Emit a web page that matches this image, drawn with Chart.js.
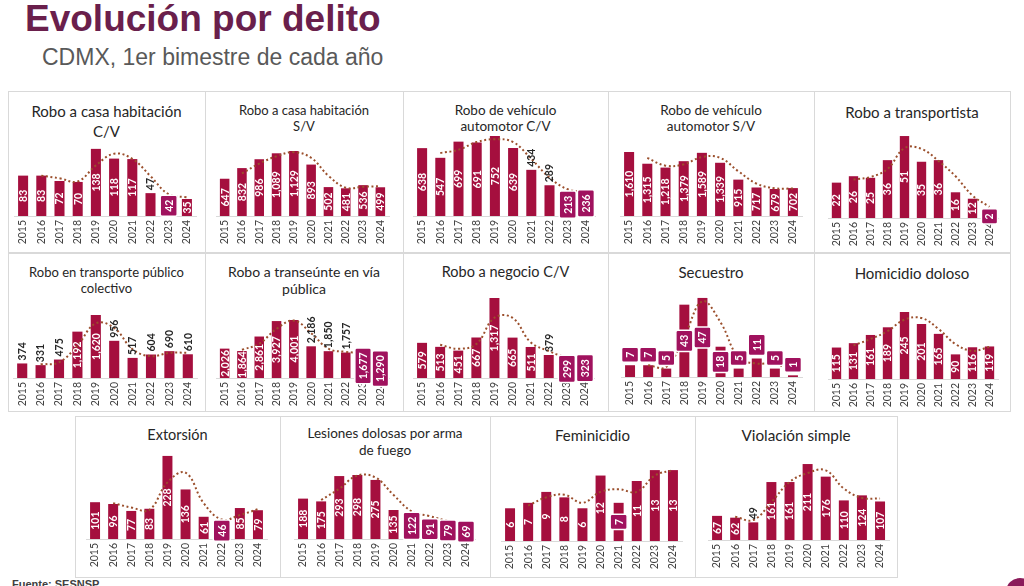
<!DOCTYPE html>
<html><head><meta charset="utf-8">
<script src="https://cdn.jsdelivr.net/npm/chart.js@4.4.1/dist/chart.umd.min.js"></script>
<style>
html,body{margin:0;padding:0;background:#fff;width:1024px;height:586px;overflow:hidden;position:relative;font-family:Lato,sans-serif}
.panel{position:absolute;border:1px solid #d9d9d9;box-sizing:border-box}
canvas{position:absolute}
.ptitle{position:absolute;text-align:center;color:#262626;white-space:nowrap}
#mainTitle{position:absolute;left:25px;top:-2px;font:bold 37px "Liberation Sans",Arial,sans-serif;color:#6A1F4C;line-height:42px}
#subTitle{position:absolute;left:42px;top:43px;font:23px "Liberation Sans",Arial,sans-serif;color:#595959;line-height:28px}
#source{position:absolute;left:12px;top:578px;font:bold 11px "Liberation Sans",Arial,sans-serif;color:#404040}
#dot{position:absolute;left:1006px;top:578px;width:28px;height:28px;border-radius:50%;background:#8B1A5A}
</style></head><body>
<div id="mainTitle">Evolución por delito</div>
<div id="subTitle">CDMX, 1er bimestre de cada año</div>
<div id="source">Fuente: SESNSP</div>
<div id="dot"></div>
<script>
// ---------- DATA ----------
const years = ['2015','2016','2017','2018','2019','2020','2021','2022','2023','2024'];
const roboCasaCV        = [83, 83, 72, 70, 138, 118, 117, 47, 42, 35];
const roboCasaSV        = [647, 832, 986, 1089, 1129, 893, 502, 481, 536, 499];
const roboVehiculoCV    = [638, 547, 699, 691, 752, 639, 434, 289, 213, 236];
const roboVehiculoSV    = [1610, 1315, 1218, 1379, 1589, 1339, 915, 717, 679, 702];
const roboTransportista = [22, 26, 25, 36, 51, 35, 36, 16, 12, 2];
const roboTransportePub = [374, 331, 475, 1192, 1620, 956, 517, 604, 690, 610];
const roboTranseunte    = [2026, 1864, 2861, 3927, 4001, 2186, 1850, 1757, 1677, 1290];
const roboNegocioCV     = [579, 513, 451, 667, 1317, 665, 511, 379, 299, 323];
const secuestro         = [7, 7, 5, 43, 47, 18, 5, 11, 5, 1];
const homicidioDoloso   = [115, 131, 161, 189, 245, 201, 165, 90, 116, 119];
const extorsion         = [101, 96, 77, 83, 228, 136, 61, 46, 85, 79];
const lesionesArmaFuego = [188, 175, 293, 298, 275, 135, 122, 91, 79, 69];
const feminicidio       = [6, 7, 9, 8, 6, 12, 7, 11, 13, 13];
const violacionSimple   = [67, 62, 49, 161, 161, 211, 176, 110, 124, 107];

const titles = [
  ['Robo a casa habitación','C/V'], ['Robo a casa habitación','S/V'],
  ['Robo de vehículo','automotor C/V'], ['Robo de vehículo','automotor S/V'],
  ['Robo a transportista'],
  ['Robo en transporte público','colectivo'], ['Robo a transeúnte en vía','pública'],
  ['Robo a negocio C/V'], ['Secuestro'], ['Homicidio doloso'],
  ['Extorsión'], ['Lesiones dolosas por arma','de fuego'], ['Feminicidio'], ['Violación simple']
];

// ---------- STYLE / LAYOUT ----------
const BAR = '#A50F3E', BOX = '#A0125E', TREND = '#9B4F2C';
// label placement: w = white centered, k = black above bar, b = boxed centered, B = boxed above bar
const labelModes = [
  'wwwwwwwkbw','wwwwwwwwww','wwwwwwkkbb','wwwwwwwwww','wwwwwwwwwb',
  'kkkwwkkkkk','wwwwwkkkbb','wwwwwwwkbb','BBBbbbBBBB','wwwwwwwwww',
  'wwwwwwwbww','wwwwwwbbbb','wwwwwwbwww','wwkwwwwwww'
];
const axisMax = [185, 1563, 846, 2264, 56, 2314, 6208, 1482, 53.5, 329, 247, 419, 16.5, 250];
// [left, top, right, bottom, plotLeft, plotRight, baseline]
const rects = [
  [8,91,205,252, 14,196,216], [205,91,403,252, 216,389,216], [403,91,608,252, 413,595,216],
  [608,91,814,252, 620,802,216], [814,91,1010,252, 828,998,218],
  [8,253,205,411, 13,197,378], [205,253,403,411, 216,389,378], [403,253,608,411, 413,594,378],
  [608,253,814,411, 621,802,377], [814,253,1010,411, 828,998,379],
  [75,416,280,577, 86,267,539], [280,416,490,577, 294,475,539], [490,416,695,577, 501,682,541],
  [695,416,897,577, 708,890,540]
];
// [first line centre y, line height, font size]
const titleStyle = [
  [111,20,15],[110,16,13],[110,16,13.5],[110,16,13.5],[112,18,15],
  [272,16,13],[271,17,14],[272,18,14.5],[272,18,15],[273,18,15],
  [435,18,14.5],[433,17,13.5],[435,18,15],[435,18,15.3]
];
const series = [roboCasaCV, roboCasaSV, roboVehiculoCV, roboVehiculoSV, roboTransportista,
  roboTransportePub, roboTranseunte, roboNegocioCV, secuestro, homicidioDoloso,
  extorsion, lesionesArmaFuego, feminicidio, violacionSimple];

// Excel-style 2-period moving-average trendline
function movingAverage2(v){ return v.map((x,i)=> i===0 ? null : (v[i-1]+x)/2); }

function valueLabels(values, modes){
  return {
    id:'valueLabels',
    afterDatasetsDraw(chart){
      const ctx = chart.ctx;
      const meta = chart.getDatasetMeta(1);
      const step = chart.scales.x.width / years.length;
      const zero = chart.scales.y.getPixelForValue(0);
      meta.data.forEach((bar,i)=>{
        const txt = values[i].toLocaleString('en-US');
        const mode = modes[i];
        const top = chart.scales.y.getPixelForValue(values[i]);
        const x = chart.scales.x.getPixelForValue(i);
        ctx.save();
        ctx.font = 'bold 10.5px Lato, sans-serif';
        const tw = ctx.measureText(txt).width;
        let cy = (top + zero)/2;
        if (mode === 'k') {
          ctx.translate(x, top - 3);
          ctx.rotate(-Math.PI/2);
          ctx.fillStyle = '#262626'; ctx.textAlign = 'left'; ctx.textBaseline = 'middle';
          ctx.fillText(txt, 0, 0.5);
        } else {
          if (mode === 'b' || mode === 'B') {
            const bh = tw + 9, bw = Math.min(step*0.95, 17);
            if (mode === 'B') cy = top - 3 - bh/2;
            ctx.fillStyle = BOX; ctx.strokeStyle = '#fff'; ctx.lineWidth = 1.5;
            ctx.beginPath(); ctx.roundRect(x-bw/2, cy-bh/2, bw, bh, 2); ctx.fill(); ctx.stroke();
          }
          ctx.translate(x, cy); ctx.rotate(-Math.PI/2);
          ctx.fillStyle = '#fff'; ctx.textAlign = 'center'; ctx.textBaseline = 'middle';
          ctx.fillText(txt, 0, 0.5);
        }
        ctx.restore();
      });
    }
  };
}

series.forEach((values, p)=>{
  const [l,t,r,b,pl,pr,base] = rects[p];
  const w = r-l, h = b-t;
  const panel = document.createElement('div');
  panel.className = 'panel';
  Object.assign(panel.style,{left:l+'px',top:t+'px',width:(w+1)+'px',height:(h+1)+'px'});
  document.body.appendChild(panel);

  const [cy, lh, fs] = titleStyle[p];
  const tdiv = document.createElement('div');
  tdiv.className = 'ptitle';
  Object.assign(tdiv.style,{left:l+'px',width:w+'px',top:(cy-lh/2)+'px',lineHeight:lh+'px',fontSize:fs+'px'});
  tdiv.innerHTML = titles[p].join('<br>');
  document.body.appendChild(tdiv);

  const cv = document.createElement('canvas');
  cv.width = w; cv.height = h;
  Object.assign(cv.style,{left:l+'px',top:t+'px',width:w+'px',height:h+'px'});
  document.body.appendChild(cv);

  const axisH = b - base;
  new Chart(cv, {
    data:{
      labels: years,
      datasets:[
        {type:'line', data: movingAverage2(values), borderColor:TREND, borderWidth:2,
         borderDash:[2,2.6], pointRadius:0, tension:0.4, fill:false, order:0},
        {type:'bar', data: values, backgroundColor:BAR, barPercentage:0.58, categoryPercentage:0.95, order:1}
      ]
    },
    options:{
      responsive:false, animation:false, devicePixelRatio:1,
      layout:{padding:{left:pl-l, right:r-pr, top:(base-90)-t, bottom:0}},
      plugins:{legend:{display:false}, tooltip:{enabled:false}, title:{display:false}},
      scales:{
        x:{
          grid:{display:false, drawTicks:false},
          border:{display:true, color:'#d9d9d9', width:1},
          ticks:{maxRotation:90, minRotation:90, padding:4, color:'#404040',
                 font:{family:'Lato', size:10.5}},
          afterFit(scale){ scale.height = axisH; }
        },
        y:{display:false, min:0, max:axisMax[p]}
      }
    },
    plugins:[valueLabels(values, labelModes[p])]
  });
});
</script>
</body></html>
